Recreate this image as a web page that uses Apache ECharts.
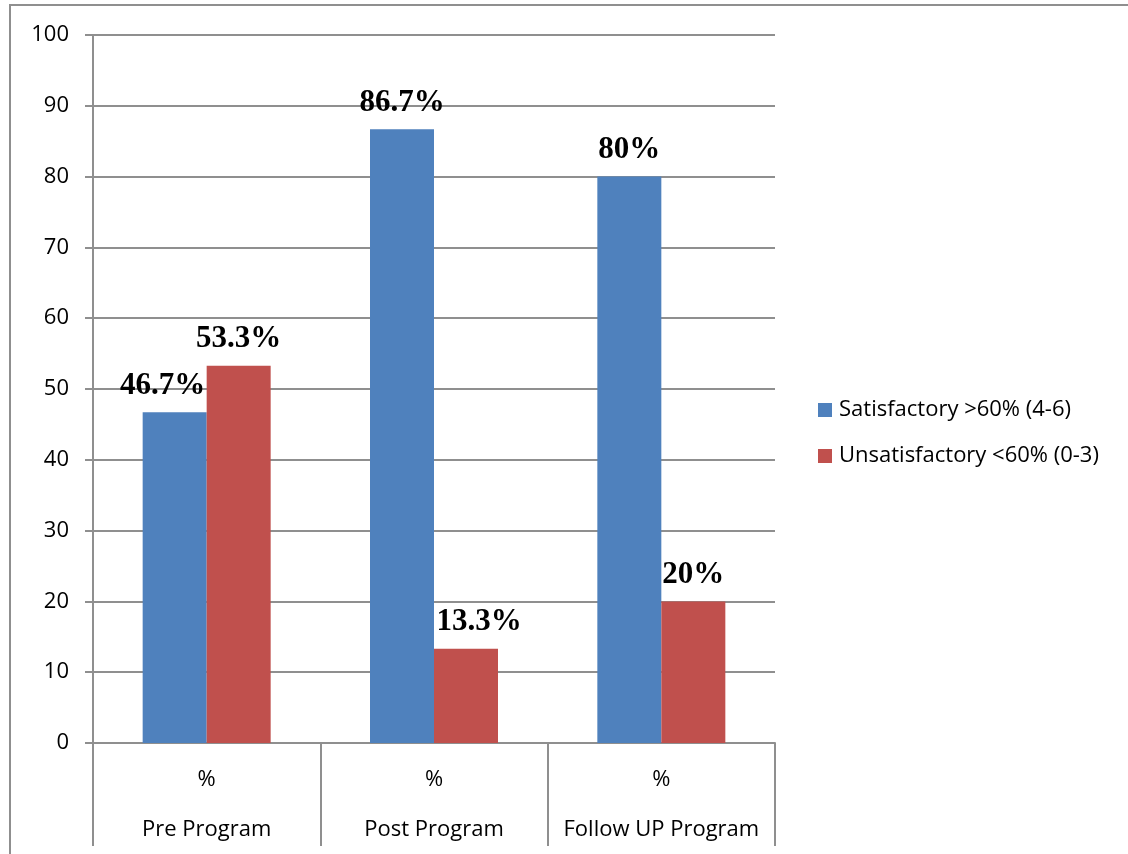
<!DOCTYPE html>
<html>
<head>
<meta charset="utf-8">
<script src="https://cdn.jsdelivr.net/npm/echarts@6/dist/echarts.min.js"></script>
<style>
  html, body { margin: 0; padding: 0; background: #fff; }
  #chart { width: 1128px; height: 854px; }
</style>
</head>
<body>
<div id="chart"></div>
<script>
// Program stages and their percentage results
const categories = ['Pre Program', 'Post Program', 'Follow UP Program'];
const subLabels = ['%', '%', '%'];
const satisfactory = [46.7, 86.7, 80];
const unsatisfactory = [53.3, 13.3, 20];
const seriesNames = ['Satisfactory >60% (4-6)', 'Unsatisfactory <60% (0-3)'];
const yTicks = { min: 0, max: 100, interval: 10 };

const sansFont = 'Open Sans';
const labelStyle = {
  show: true,
  position: 'top',
  distance: 11,
  fontFamily: 'Liberation Serif',
  fontWeight: 'bold',
  fontSize: 31,
  color: '#000',
  formatter: p => p.value + '%'
};

// Small horizontal nudges keep neighbouring labels from colliding
const satData = satisfactory.map((v, i) => (i === 0 ? { value: v, label: { offset: [-12, 0] } } : v));
const unsatData = unsatisfactory.map((v, i) => (i === 1 ? { value: v, label: { offset: [13, 0] } } : v));

const gray = '#8f8f8f';
const chart = echarts.init(document.getElementById('chart'), null, { renderer: 'canvas' });
chart.setOption({
  animation: false,
  backgroundColor: '#fff',
  grid: { left: 93, right: 353, top: 35, bottom: 111, containLabel: false },
  legend: {
    orient: 'vertical',
    left: 813,
    top: 394,
    itemWidth: 14,
    itemHeight: 14,
    itemGap: 24,
    icon: 'rect',
    textStyle: { fontFamily: sansFont, fontSize: 22, color: '#000', padding: [0, 0, 0, 2] },
    data: seriesNames
  },
  xAxis: {
    type: 'category',
    data: categories,
    boundaryGap: true,
    axisLine: { show: true, lineStyle: { color: gray, width: 2 } },
    axisTick: { show: true, length: 103, lineStyle: { color: gray, width: 2 } },
    axisLabel: {
      margin: 12,
      interval: 0,
      formatter: (v, i) => '{a|' + subLabels[i] + '}\n{b|' + v + '}',
      rich: {
        a: { fontFamily: sansFont, fontSize: 22, color: '#000', lineHeight: 50 },
        b: { fontFamily: sansFont, fontSize: 22, color: '#000', lineHeight: 50 }
      }
    },
    splitLine: { show: false }
  },
  yAxis: {
    type: 'value',
    min: yTicks.min,
    max: yTicks.max,
    interval: yTicks.interval,
    axisLine: { show: true, lineStyle: { color: gray, width: 2 } },
    axisTick: { show: true, length: 8, lineStyle: { color: gray, width: 2 } },
    axisLabel: { margin: 24, fontFamily: sansFont, fontSize: 22, color: '#000' },
    splitLine: { show: true, lineStyle: { color: gray, width: 2 } }
  },
  series: [
    {
      name: seriesNames[0],
      type: 'bar',
      data: satData,
      barWidth: 64,
      barGap: '0%',
      itemStyle: { color: '#4F81BD' },
      label: labelStyle
    },
    {
      name: seriesNames[1],
      type: 'bar',
      data: unsatData,
      barWidth: 64,
      barGap: '0%',
      itemStyle: { color: '#C0504D' },
      label: labelStyle
    }
  ],
  graphic: [
    {
      type: 'rect',
      shape: { x: 10, y: 5, width: 1300, height: 1000 },
      style: { fill: 'none', stroke: gray, lineWidth: 2 },
      silent: true
    }
  ]
});
</script>
</body>
</html>
